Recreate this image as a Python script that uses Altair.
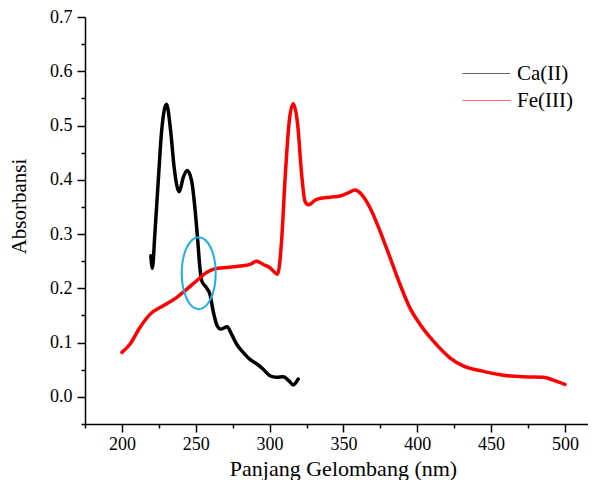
import altair as alt
import pandas as pd

# ---- data ----
ca_nm = [219.6, 220.6, 222.3, 224.6, 226.9, 230.2, 233.0, 235.4, 238.8, 241.5, 244.2,
         247.2, 249.4, 251.2, 252.8, 254.0, 257.3, 259.6, 261.8, 264.5, 266.8, 271.3,
         274.3, 277.7, 282.1, 286.7, 291.2, 295.7, 300.2, 304.7, 309.2, 313.3, 316.0, 319.4]
ca_abs = [0.260, 0.237, 0.300, 0.398, 0.490, 0.539, 0.490, 0.422, 0.378, 0.404, 0.417,
          0.398, 0.349, 0.293, 0.238, 0.214, 0.201, 0.189, 0.158, 0.131, 0.125, 0.129,
          0.115, 0.097, 0.082, 0.069, 0.061, 0.051, 0.039, 0.036, 0.037, 0.029, 0.022, 0.033]

fe_nm = [200.0, 205.4, 212.2, 219.0, 228.0, 237.0, 243.8, 250.6, 257.3, 261.8, 268.6,
         279.9, 286.7, 291.2, 295.7, 300.2, 305.4, 308.1, 310.4, 313.3, 316.0, 319.0,
         321.7, 323.9, 326.2, 331.8, 340.9, 347.6, 353.2, 357.8, 362.3, 367.9, 374.7,
         381.5, 388.2, 395.0, 401.8, 410.8, 422.1, 431.1, 444.7, 458.2, 471.7, 485.3,
         492.1, 500.0]
fe_abs = [0.082, 0.097, 0.128, 0.152, 0.168, 0.183, 0.198, 0.214, 0.229, 0.235, 0.238,
          0.241, 0.244, 0.250, 0.244, 0.238, 0.226, 0.287, 0.398, 0.508, 0.540, 0.502,
          0.410, 0.361, 0.354, 0.364, 0.368, 0.370, 0.376, 0.381, 0.373, 0.349, 0.306,
          0.257, 0.208, 0.164, 0.134, 0.103, 0.072, 0.057, 0.047, 0.040, 0.037, 0.036,
          0.031, 0.023]

series_names = ["Ca(II)", "Fe(III)"]
series_colors = ["#000000", "#ff0000"]

x_major = [200, 250, 300, 350, 400, 450, 500]
x_minor = [175, 225, 275, 325, 375, 425, 475]
y_major = [0.0, 0.1, 0.2, 0.3, 0.4, 0.5, 0.6, 0.7]
y_minor = [-0.05, 0.05, 0.15, 0.25, 0.35, 0.45, 0.55, 0.65]

# circled crossing annotation
mark_nm = [252.0]
mark_abs = [0.228]

FONT = "Liberation Serif"

df = pd.concat([
    pd.DataFrame({"nm": ca_nm, "abs": ca_abs, "series": series_names[0], "order": range(len(ca_nm))}),
    pd.DataFrame({"nm": fe_nm, "abs": fe_abs, "series": series_names[1], "order": range(len(fe_nm))}),
])
df_mark = pd.DataFrame({"nm": mark_nm, "abs": mark_abs})

x_scale = alt.Scale(domain=[175, 515.6], nice=False, zero=False)
y_scale = alt.Scale(domain=[-0.05, 0.7], nice=False, zero=False)

lines = alt.Chart(df).mark_line(
    strokeWidth=3.5, strokeJoin="round", strokeCap="round", interpolate="monotone"
).encode(
    x=alt.X("nm:Q", scale=x_scale, axis=alt.Axis(
        values=x_major, orient="bottom", title="Panjang Gelombang (nm)", format="d",
        tickSize=8, tickWidth=1.5, tickColor="black", domainColor="black", domainWidth=1.5,
        labelFontSize=18, labelColor="black", labelFont=FONT, labelPadding=3, grid=False,
        titleFont=FONT, titleFontSize=22, titleFontWeight="normal", titleColor="black",
        titleX=258, titleY=51, titleBaseline="alphabetic", titleAlign="center")),
    y=alt.Y("abs:Q", scale=y_scale, axis=alt.Axis(
        values=y_major, orient="left", title="Absorbansi", format=".1f",
        tickSize=8, tickWidth=1.5, tickColor="black", domainColor="black", domainWidth=1.5,
        labelFontSize=18, labelColor="black", labelFont=FONT, labelPadding=5, grid=False,
        titleFont=FONT, titleFontSize=21, titleFontWeight="normal", titleColor="black",
        titleX=-66, titleY=189, titleAngle=270, titleAlign="center", titleBaseline="middle")),
    color=alt.Color("series:N", scale=alt.Scale(domain=series_names, range=series_colors),
                    legend=alt.Legend(
                        title=None, orient="none", legendX=373, legendY=46,
                        symbolType="M-1,0L7,0", symbolSize=144, symbolStrokeWidth=1.2,
                        symbolOpacity=0.6, labelOffset=38, labelFont=FONT, labelFontSize=21,
                        labelColor="black", rowPadding=5, padding=0)),
    order="order:Q",
)

ellipse_path = ("M0,-1C0.261,-1 0.472,-0.552 0.472,0C0.472,0.552 0.261,1 0,1"
                "C-0.261,1 -0.472,0.552 -0.472,0C-0.472,-0.552 -0.261,-1 0,-1Z")

ellipse = alt.Chart(df_mark).mark_point(
    shape=ellipse_path, size=5184, filled=False, color="#1AAEE8", strokeWidth=2, opacity=1
).encode(
    x=alt.X("nm:Q", scale=x_scale, axis=alt.Axis(
        values=x_minor, orient="bottom", title=None, labels=False, domain=False,
        tickSize=4, tickWidth=1.5, tickColor="black", grid=False)),
    y=alt.Y("abs:Q", scale=y_scale, axis=alt.Axis(
        values=y_minor, orient="left", title=None, labels=False, domain=False,
        tickSize=4, tickWidth=1.5, tickColor="black", grid=False)),
)

chart = alt.layer(lines, ellipse).resolve_axis(
    x="independent", y="independent"
).properties(
    width=503, height=407,
    padding={"left": 77, "top": 9, "right": 0, "bottom": 56},
    autosize=alt.AutoSizeParams(type="none"),
    background="white",
).configure(
    font=FONT
).configure_axis(
    labelFont=FONT, titleFont=FONT
).configure_legend(
    labelFont=FONT
).configure_view(stroke=None)

chart.save("out.html", embed_options={"renderer": "svg", "actions": False})
